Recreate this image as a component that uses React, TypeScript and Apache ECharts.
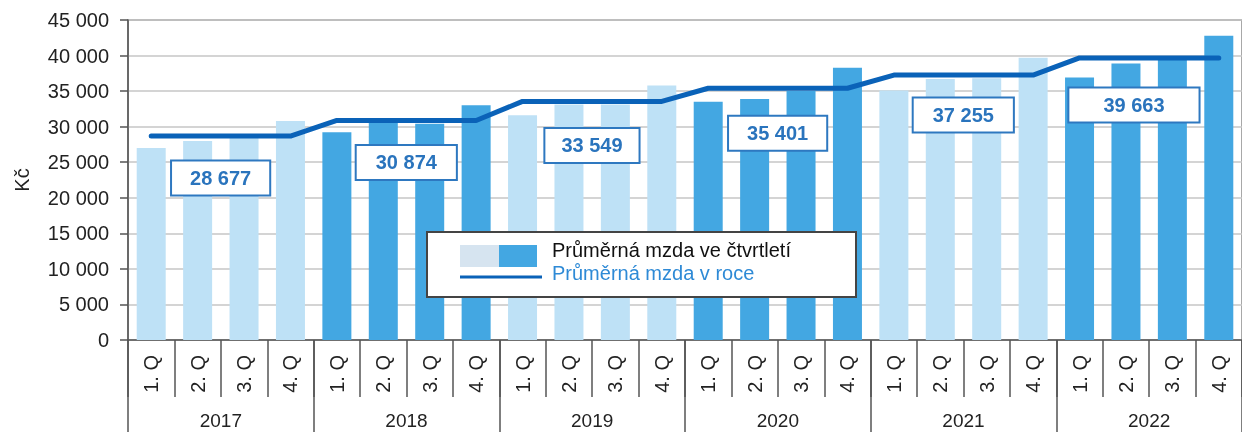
import React, { useEffect, useRef } from "react";
import * as echarts from "echarts";

const years = ["2017", "2018", "2019", "2020", "2021", "2022"];
const quarterLabels = ["1. Q", "2. Q", "3. Q", "4. Q"];
const quarterlyWage = [
  27000, 28000, 28400, 30800,
  29200, 30600, 30400, 33000,
  31600, 33100, 33100, 35800,
  33500, 33900, 35000, 38300,
  35100, 36700, 36800, 39700,
  36900, 38900, 39800, 42800,
];
const annualWage = [28677, 30874, 33549, 35401, 37255, 39663];
const yTicks = { min: 0, max: 45000, interval: 5000 };

// styling of the annual value boxes (offset from the line point, padding)
const labelOffsets = [
  [23, 42],
  [23, 42],
  [23, 44],
  [23, 45],
  [23, 40],
  [8, 47],
];
const labelPadX = [18, 19, 16, 18, 19, 34];

const FONT = "'Liberation Sans', Arial, sans-serif";
const LIGHT = "#BEE1F6";
const DARK = "#43A7E2";
const LINE = "#0A62B8";

const fmt = (v: number) =>
  String(Math.round(v)).replace(/\B(?=(\d{3})+(?!\d))/g, " ");

export default function App() {
  const ref = useRef<HTMLDivElement>(null);
  useEffect(() => {
    if (!ref.current) return;
    const chart = echarts.init(ref.current, undefined, { renderer: "svg" });
    const categories = years.flatMap((y) => quarterLabels.map((q) => `${y}|${q}`));
    const lineData = annualWage.flatMap((v) => [v, v, v, v]);
    const labelData = categories.map((_, i) => {
      if (i % 4 !== 1) return "-";
      const y = Math.floor(i / 4);
      return {
        value: annualWage[y],
        label: {
          offset: labelOffsets[y],
          padding: [6, labelPadX[y], 5, labelPadX[y]],
        },
      };
    });
    const Z = 100;
    chart.setOption({
      animation: false,
      textStyle: { fontFamily: FONT },
      grid: {
        left: 128,
        top: 20,
        right: -9,
        bottom: 92,
        show: true,
        borderColor: "#8c8c8c",
        borderWidth: 1.5,
      },
      xAxis: [
        {
          type: "category",
          data: categories,
          position: "bottom",
          boundaryGap: true,
          axisLine: { show: true, lineStyle: { color: "#555", width: 1.5 } },
          axisTick: {
            show: true,
            interval: 0,
            length: 57,
            alignWithLabel: false,
            lineStyle: { color: "#555", width: 1.5 },
          },
          axisLabel: {
            interval: 0,
            rotate: 90,
            margin: 15,
            fontSize: 20,
            color: "#222",
            fontFamily: FONT,
            formatter: (v: string) => v.split("|")[1],
          },
          splitLine: { show: false },
        },
        {
          type: "category",
          data: years,
          position: "bottom",
          offset: 0,
          boundaryGap: true,
          axisLine: { show: false },
          axisTick: {
            show: true,
            interval: 0,
            length: 92,
            alignWithLabel: false,
            lineStyle: { color: "#555", width: 1.5 },
          },
          axisLabel: {
            interval: 0,
            margin: 71,
            fontSize: 19,
            color: "#222",
            fontFamily: FONT,
          },
          splitLine: { show: false },
        },
      ],
      yAxis: {
        type: "value",
        min: yTicks.min,
        max: yTicks.max,
        interval: yTicks.interval,
        name: "Kč",
        nameLocation: "middle",
        nameRotate: 90,
        nameGap: 96,
        nameTextStyle: { fontSize: 20, color: "#222", fontFamily: FONT },
        axisLine: { show: true, lineStyle: { color: "#555", width: 1.5 } },
        axisTick: { show: true, length: 8, lineStyle: { color: "#555", width: 1.5 } },
        axisLabel: {
          margin: 19,
          fontSize: 20,
          color: "#222",
          fontFamily: FONT,
          formatter: (v: number) => fmt(v),
        },
        splitLine: { show: true, lineStyle: { color: "#C6C6C6", width: 1.5 } },
      },
      series: [
        {
          name: "Průměrná mzda ve čtvrtletí",
          type: "bar",
          xAxisIndex: 0,
          data: quarterlyWage,
          barWidth: 29,
          itemStyle: {
            color: (p: any) => (Math.floor(p.dataIndex / 4) % 2 === 0 ? LIGHT : DARK),
          },
        },
        {
          name: "Průměrná mzda v roce",
          type: "line",
          xAxisIndex: 0,
          data: lineData,
          symbol: "none",
          lineStyle: { color: LINE, width: 5, cap: "round" },
          z: 3,
        },
        {
          name: "labels",
          type: "scatter",
          xAxisIndex: 0,
          data: labelData,
          symbolSize: 1,
          itemStyle: { color: "rgba(0,0,0,0)", opacity: 1 },
          z: 5,
          label: {
            show: true,
            position: "inside",
            formatter: (p: any) => fmt(p.value),
            fontSize: 20,
            fontWeight: "bold",
            fontFamily: FONT,
            color: "#2A74BD",
            backgroundColor: "#fff",
            borderColor: "#2E78C0",
            borderWidth: 2,
            lineHeight: 22,
            opacity: 1,
          },
        },
      ],
      graphic: [
        {
          type: "rect",
          z: Z,
          shape: { x: 427, y: 232, width: 429, height: 65 },
          style: { fill: "#fff", stroke: "#444", lineWidth: 2 },
        },
        {
          type: "rect",
          z: Z + 1,
          shape: { x: 460, y: 245, width: 39, height: 22 },
          style: { fill: "#D6E4F0" },
        },
        {
          type: "rect",
          z: Z + 1,
          shape: { x: 499, y: 245, width: 38, height: 22 },
          style: { fill: DARK },
        },
        {
          type: "line",
          z: Z + 1,
          shape: { x1: 460, y1: 277, x2: 542, y2: 277 },
          style: { stroke: LINE, lineWidth: 3 },
        },
        {
          type: "text",
          z: Z + 1,
          x: 552,
          y: 250,
          style: {
            text: "Průměrná mzda ve čtvrtletí",
            fill: "#111",
            font: `20px ${FONT}`,
            verticalAlign: "middle",
          },
        },
        {
          type: "text",
          z: Z + 1,
          x: 552,
          y: 273,
          style: {
            text: "Průměrná mzda v roce",
            fill: "#2E8AD6",
            font: `20px ${FONT}`,
            verticalAlign: "middle",
          },
        },
      ],
    });
    return () => chart.dispose();
  }, []);
  return (
    <div
      ref={ref}
      style={{ position: "fixed", left: 0, top: 0, width: 1242, height: 432 }}
    />
  );
}
